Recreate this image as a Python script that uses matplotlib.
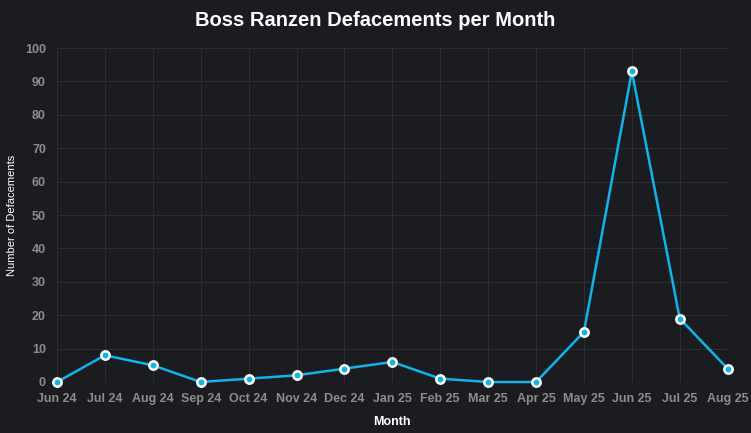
import matplotlib.pyplot as plt

# data
months = ["Jun 24", "Jul 24", "Aug 24", "Sep 24", "Oct 24", "Nov 24", "Dec 24",
          "Jan 25", "Feb 25", "Mar 25", "Apr 25", "May 25", "Jun 25", "Jul 25", "Aug 25"]
defacements = [0, 8, 5, 0, 1, 2, 4, 6, 1, 0, 0, 15, 93, 19, 4]
y_ticks = list(range(0, 101, 10))

bg = "#1b1c20"
grid_col = "#2c2d31"
tick_col = "#8c8c8c"
line_col = "#0fb4ea"

plt.rcParams['font.family'] = ['Liberation Sans', 'DejaVu Sans']

fig = plt.figure(figsize=(7.51, 4.33), dpi=100, facecolor=bg)
ax = fig.add_axes([0.0759, 0.1178, 0.893, 0.7713], facecolor=bg)

x = list(range(len(months)))
ax.plot(x, defacements, color=line_col, linewidth=1.8, marker='o', markersize=6,
        markerfacecolor=line_col, markeredgecolor='white', markeredgewidth=1.8,
        zorder=3, clip_on=False)

ax.set_xlim(0, len(months) - 1)
ax.set_ylim(0, 100)
ax.set_xticks(x)
ax.set_xticklabels(months)
ax.set_yticks(y_ticks)
ax.grid(True, color=grid_col, linewidth=0.8)
ax.tick_params(colors=tick_col, labelsize=9, length=0, pad=8)
for lbl in ax.get_xticklabels() + ax.get_yticklabels():
    lbl.set_fontweight('bold')
for s in ax.spines.values():
    s.set_visible(False)

ax.set_xlabel("Month", color='white', fontsize=9, fontweight='bold', labelpad=8)
fig.text(12 / 751, 1 - 215 / 433, "Number of Defacements", color='white', fontsize=8,
         rotation=90, ha='center', va='center')
fig.suptitle("Boss Ranzen Defacements per Month", color='white', fontsize=14.5,
             fontweight='bold', y=0.975)

fig.savefig("out.png", dpi=100, facecolor=bg)
